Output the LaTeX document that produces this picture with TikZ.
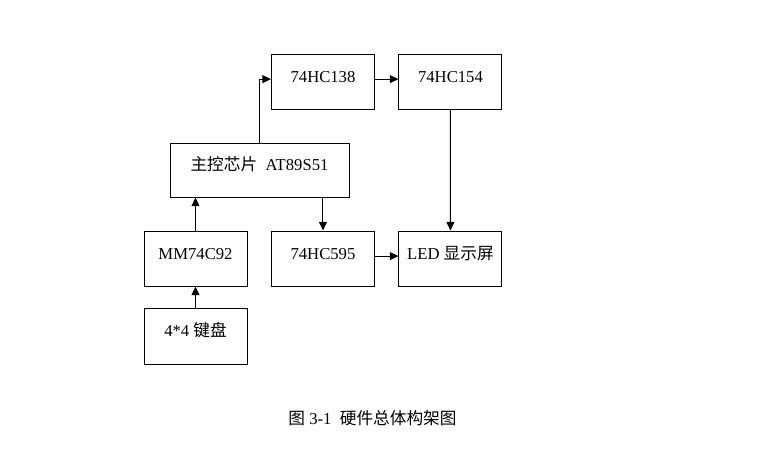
\documentclass[tikz,border=0pt]{standalone}
\usepackage{fontspec}
\setmainfont{Liberation Serif}
\newfontfamily\cjk{Noto Sans CJK SC}
\usetikzlibrary{positioning,arrows.meta}
\tikzset{
  blk/.style={draw, line width=0.75pt, minimum width=77.25pt, minimum height=41.25pt, inner sep=0pt, font=\fontsize{12.5}{14}\selectfont, text height=9pt, text depth=8pt},
  arr/.style={-{Triangle[length=6.5pt,width=6pt]}, line width=0.75pt},
}
\begin{document}
\begin{tikzpicture}[x=0.75pt, y=-0.75pt, node distance=17.6pt]
  \useasboundingbox (0,0) rectangle (757,465);
  % rows of blocks
  \node[blk, minimum width=134.25pt, minimum height=40.5pt] (main) at (259.5,170) {{\cjk 主控芯片}\ \ AT89S51};
  \node[blk] (h138) at (323,81.5) {74HC138};
  \node[blk, right=of h138] (h154) {74HC154};
  \node[blk] (mm) at (195.5,258.5) {MM74C92};
  \node[blk, right=of mm] (h595) {74HC595};
  \node[blk, right=of h595] (led) {LED {\cjk 显示屏}};
  \node[blk, below=15.75pt of mm, minimum height=42pt] (key) {4*4 {\cjk 键盘}};
  % caption
  \node[font=\fontsize{12.5}{14}\selectfont] (cap) at (372.5,418) {{\cjk 图} 3-1\ \ {\cjk 硬件总体构架图}};
  \draw[arr] (main.north) |- (h138.mid west);
  \draw[arr] (h138.mid east) -- (h154.mid west);
  \draw[arr] (h154) -- (led);
  \draw[arr] (main.south -| h595.north) -- (h595.north);
  \draw[arr] (h595.mid east) -- (led.mid west);
  \draw[arr] (mm.north) -- (mm.north |- main.south);
  \draw[arr] (key) -- (mm);
\end{tikzpicture}
\end{document}
